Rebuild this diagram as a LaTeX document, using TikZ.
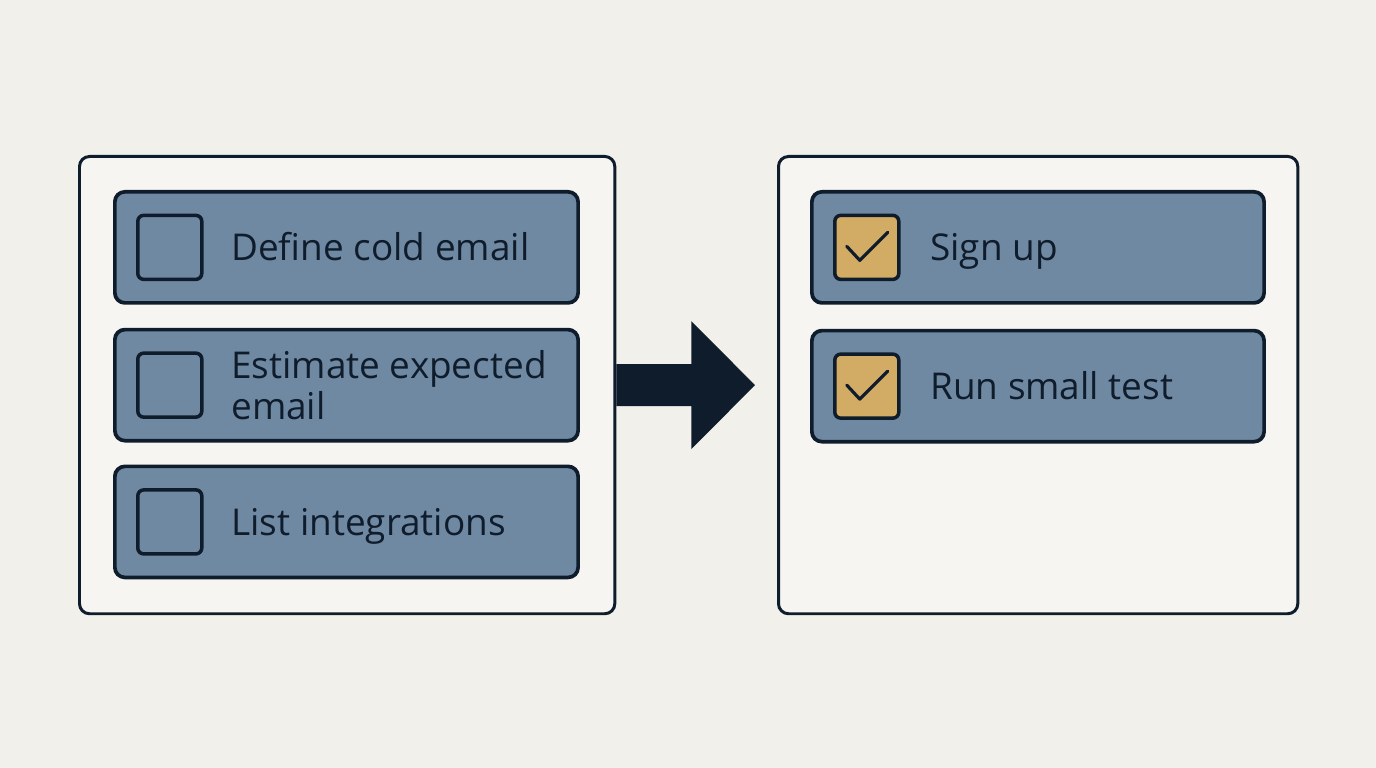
\documentclass[tikz,border=0pt]{standalone}
\usepackage{fontspec}
\setmainfont{Open Sans}
\usetikzlibrary{positioning, calc}

\definecolor{ink}{HTML}{0E1C2B}
\definecolor{paper}{HTML}{F2F0EB}
\definecolor{slate}{HTML}{7089A3}
\definecolor{gold}{HTML}{D2AC64}

\begin{document}
\begin{tikzpicture}[
    x=0.01cm, y=-0.01cm,
    panel/.style={rectangle, draw=ink, line width=0.85pt, fill=paper!65!white, rounded corners=0.1cm, minimum width=5.35cm, minimum height=4.57cm, anchor=north west},
    task/.style={rectangle, draw=ink, line width=1.05pt, fill=slate, rounded corners=0.1cm, minimum width=4.63cm, minimum height=1.11cm, anchor=north west},
    tickbox/.style={rectangle, draw=ink, line width=1pt, rounded corners=0.06cm, minimum size=0.64cm, inner sep=0pt},
    tasktext/.style={inner sep=0pt, text=ink, font=\fontsize{10.5pt}{11.7pt}\selectfont, align=left, text height=0.27cm, text depth=0cm},
    tick/.style={draw=ink, line width=0.9pt, line cap=round, line join=round}
]

% Canvas
\fill[paper] (0,0) rectangle (1376,768);
\useasboundingbox (0,0) rectangle (1376,768);

% Panels
\node[panel] (todo) at (78,155) {};
\node[panel, minimum width=5.19cm] (done) at (777,155) {};

% Left panel: open tasks
\node[task] (t1) at (113,190) {};
\node[task, below=0.23cm of t1] (t2) {};
\node[task, below=0.22cm of t2] (t3) {};

\node[tickbox, right=0.23cm of t1.west] (c1) {};
\node[tickbox, right=0.23cm of t2.west] (c2) {};
\node[tickbox, right=0.23cm of t3.west] (c3) {};

\node[tasktext, right=0.27cm of c1] (l1) {Define cold email};
\node[tasktext, right=0.27cm of c2, text height=0.68cm] (l2) {Estimate expected\\email};
\node[tasktext, right=0.27cm of c3] (l3) {List integrations};

% Right panel: finished tasks
\node[task, minimum width=4.52cm] (d1) at (810,190) {};
\node[task, minimum width=4.52cm, below=0.24cm of d1] (d2) {};

\node[tickbox, fill=gold, right=0.23cm of d1.west] (k1) {};
\node[tickbox, fill=gold, right=0.23cm of d2.west] (k2) {};

\draw[tick] ($(k1)+(-20,-1)$) -- ($(k1)+(-7,13)$) -- ($(k1)+(21,-15)$);
\draw[tick] ($(k2)+(-20,-1)$) -- ($(k2)+(-7,13)$) -- ($(k2)+(21,-15)$);

\node[tasktext, right=0.29cm of k1] (m1) {Sign up};
\node[tasktext, right=0.29cm of k2] (m2) {Run small test};

% Block arrow between panels
\coordinate (tip) at ($(done.west)+(-22,0)$);
\fill[ink] ($(todo.east)+(0,-21)$) -- ($(todo.east)+(75,-21)$) -- ($(todo.east)+(75,-64)$) -- (tip)
    -- ($(todo.east)+(75,64)$) -- ($(todo.east)+(75,21)$) -- ($(todo.east)+(0,21)$) -- cycle;

\end{tikzpicture}
\end{document}
